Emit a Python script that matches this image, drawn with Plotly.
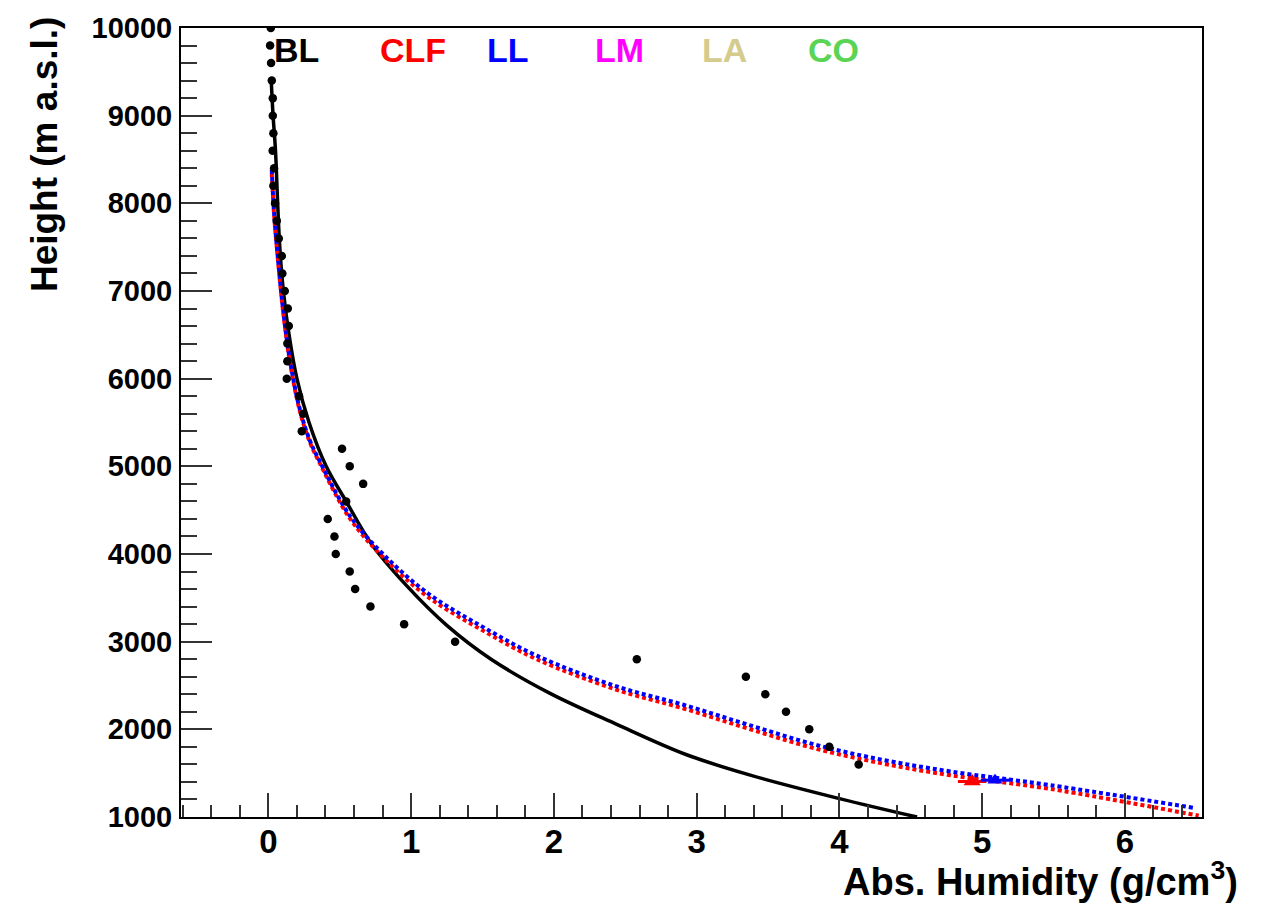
import plotly.graph_objects as go

# Measured absolute humidity profile (balloon sounding)
meas_height = [10000, 9800, 9600, 9400, 9200, 9000, 8800, 8600, 8400, 8200,
               8000, 7800, 7600, 7400, 7200, 7000, 6800, 6600, 6400, 6200,
               6000, 5800, 5600, 5400, 5200, 5000, 4800, 4600, 4400, 4200,
               4000, 3800, 3600, 3400, 3200, 3000, 2800, 2600, 2400, 2200,
               2000, 1800, 1600]
meas_hum = [0.017, 0.012, 0.019, 0.024, 0.031, 0.031, 0.035, 0.03, 0.04, 0.035,
            0.047, 0.059, 0.073, 0.094, 0.098, 0.115, 0.136, 0.143, 0.133, 0.133,
            0.129, 0.215, 0.245, 0.234, 0.516, 0.57, 0.664, 0.545, 0.416, 0.463,
            0.472, 0.57, 0.608, 0.715, 0.951, 1.308, 2.581, 3.345, 3.481, 3.626,
            3.789, 3.929, 4.135]

# Fitted profile for BL
fit_height = [9400, 9000, 8600, 8000, 7500, 7000, 6500, 6000, 5500, 5000,
              4600, 4120, 3636, 3186, 2800, 2413, 2057, 1710, 1480, 1210, 1000]
fit_hum = [0.02, 0.033, 0.05, 0.065, 0.08, 0.105, 0.145, 0.2, 0.285, 0.405,
           0.545, 0.72, 0.97, 1.25, 1.56, 1.97, 2.44, 2.93, 3.37, 4.0, 4.544]

# Model profile for CLF
clf_hum = [0.024, 0.04, 0.07, 0.105, 0.152, 0.222, 0.292, 0.362, 0.573, 0.806,
           1.11, 1.484, 1.88, 2.44, 2.908, 3.376, 3.843, 4.31, 4.777, 5.478, 6.517]
clf_height = [8340, 7870, 7300, 6740, 6180, 5620, 5270, 5030, 4400, 3960,
              3520, 3144, 2800, 2451, 2238, 2001, 1776, 1608, 1476, 1320, 1015]

# Model profile for LL
ll_hum = [0.024, 0.04, 0.07, 0.105, 0.152, 0.222, 0.292, 0.362, 0.573, 0.806,
          1.11, 1.484, 1.88, 2.44, 2.908, 3.376, 3.843, 4.31, 4.777, 5.478, 6.494]
ll_height = [8380, 7890, 7320, 6760, 6200, 5640, 5290, 5050, 4430, 3995,
             3560, 3185, 2840, 2490, 2280, 2045, 1820, 1650, 1520, 1363, 1101]

# Ground station measurements
clf_ground_hum = [4.93]
clf_ground_height = [1405]
clf_ground_err = [0.1]
ll_ground_hum = [5.09]
ll_ground_height = [1420]
ll_ground_err = [0.1]

# Site labels
site_names = ["BL", "CLF", "LL", "LM", "LA", "CO"]
site_colors = ["#000000", "#ff0000", "#0000ff", "#ff00ff", "#d4cb8c", "#59d454"]
site_xpos = [0.1136, 0.2273, 0.3203, 0.429, 0.5328, 0.6386]

# Axis tick labels
x_ticks = [0, 1, 2, 3, 4, 5, 6]
y_ticks = [1000, 2000, 3000, 4000, 5000, 6000, 7000, 8000, 9000, 10000]
y_ticktext = [str(v) for v in y_ticks]

FONT = "Liberation Sans, Arial, sans-serif"

fig = go.Figure()

fig.add_trace(go.Scatter(
    x=fit_hum, y=fit_height, mode="lines", line_shape="spline",
    line=dict(color="black", width=3.5), showlegend=False))

fig.add_trace(go.Scatter(
    x=clf_hum, y=clf_height, mode="lines", line_shape="spline",
    line=dict(color="#ff0000", width=4, dash="4px,3px"), showlegend=False))

fig.add_trace(go.Scatter(
    x=ll_hum, y=ll_height, mode="lines", line_shape="spline",
    line=dict(color="#0000ff", width=4, dash="4px,3px"), showlegend=False))

fig.add_trace(go.Scatter(
    x=meas_hum, y=meas_height, mode="markers",
    marker=dict(symbol="circle", size=8.5, color="black"), showlegend=False))

fig.add_trace(go.Scatter(
    x=clf_ground_hum, y=clf_ground_height, mode="markers",
    marker=dict(symbol="triangle-up", size=15, color="#ff0000"),
    error_x=dict(type="data", array=clf_ground_err, color="#ff0000",
                 thickness=3, width=0),
    showlegend=False))

fig.add_trace(go.Scatter(
    x=ll_ground_hum, y=ll_ground_height, mode="markers",
    marker=dict(symbol="triangle-up", size=13, color="#0000ff"),
    error_x=dict(type="data", array=ll_ground_err, color="#0000ff",
                 thickness=3, width=0),
    showlegend=False))

annotations = []
for name, col, xp in zip(site_names, site_colors, site_xpos):
    annotations.append(dict(
        text=name, xref="paper", yref="paper", x=xp, y=0.972,
        xanchor="center", yanchor="middle", showarrow=False,
        font=dict(family=FONT, size=34, color=col, weight="bold")))

annotations.append(dict(
    text="Abs. Humidity (g/cm<sup>3</sup>)", xref="paper", yref="paper",
    x=1.037, y=-0.079, xanchor="right", yanchor="middle", showarrow=False,
    font=dict(family=FONT, size=38, color="black", weight="bold")))

annotations.append(dict(
    text="Height (m a.s.l.)", xref="paper", yref="paper", textangle=-90,
    x=-0.133, y=1.016, xanchor="center", yanchor="top", showarrow=False,
    font=dict(family=FONT, size=37, color="black", weight="bold")))

fig.update_layout(
    width=1261, height=910, autosize=False,
    margin=dict(l=181, r=59, t=17, b=93, pad=0),
    paper_bgcolor="white", plot_bgcolor="white",
    annotations=annotations,
    xaxis=dict(
        range=[-0.612, 6.54], showgrid=False, zeroline=False,
        showline=True, linecolor="black", linewidth=2, mirror=True,
        ticks="inside", ticklen=24, tickwidth=1.5, tickcolor="#333333",
        tickvals=x_ticks, ticklabelstandoff=-6,
        minor=dict(ticks="inside", dtick=0.2, tick0=0, ticklen=12,
                   tickwidth=1.5, tickcolor="#333333", showgrid=False),
        tickfont=dict(family=FONT, size=33, color="black", weight="bold")),
    yaxis=dict(
        range=[1000, 10000], showgrid=False, zeroline=False,
        showline=True, linecolor="black", linewidth=2, mirror=True,
        ticks="inside", ticklen=31, tickwidth=1.5, tickcolor="#333333",
        tickvals=y_ticks, ticktext=y_ticktext,
        ticklabelstandoff=1,
        minor=dict(ticks="inside", dtick=200, tick0=0, ticklen=16,
                   tickwidth=1.5, tickcolor="#333333", showgrid=False),
        tickfont=dict(family=FONT, size=29, color="black", weight="bold")),
)

fig.write_html("out.html")
